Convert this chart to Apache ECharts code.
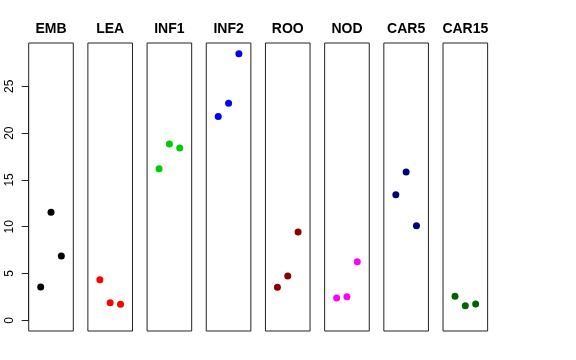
<!DOCTYPE html>
<html>
<head>
<meta charset="utf-8">
<script src="https://cdn.jsdelivr.net/npm/echarts@6/dist/echarts.min.js"></script>
<style>
html,body{margin:0;padding:0;background:#fff;}
#chart{width:576px;height:360px;}
</style>
</head>
<body>
<div id="chart"></div>
<script>
// ---- data ----
var panels = ['EMB', 'LEA', 'INF1', 'INF2', 'ROO', 'NOD', 'CAR5', 'CAR15'];
var replicate = [1, 2, 3];
var EMB   = [3.56, 11.54, 6.87];
var LEA   = [4.34, 1.88, 1.71];
var INF1  = [16.2, 18.84, 18.41];
var INF2  = [21.79, 23.18, 28.48];
var ROO   = [3.53, 4.73, 9.43];
var NOD   = [2.38, 2.52, 6.26];
var CAR5  = [13.42, 15.84, 10.11];
var CAR15 = [2.56, 1.56, 1.74];
var yTickMin = 0, yTickMax = 25, yTickStep = 5;

(function () {
  // ---- styles ----
  var values = [EMB, LEA, INF1, INF2, ROO, NOD, CAR5, CAR15];
  var colors = ['#000000', '#FF0000', '#00CD00', '#0000FF', '#8B0000', '#FF00FF', '#000080', '#006400'];

  var chart = echarts.init(document.getElementById('chart'), null, {renderer: 'canvas'});
  var grids = [], xAxes = [], yAxes = [], series = [], titles = [];
  var left0 = 28.7, pitch = 59.19, pw = 44.6, pTop = 43, ph = 288;
  var yMin = -1.14, yMax = 29.63;

  function yPix(v) { return pTop + ph * (yMax - v) / (yMax - yMin); }

  panels.forEach(function (name, i) {
    var L = left0 + i * pitch;
    grids.push({
      left: L, top: pTop, width: pw, height: ph,
      show: true, borderColor: '#222', borderWidth: 1, backgroundColor: 'transparent'
    });
    xAxes.push({type: 'value', gridIndex: i, min: -0.16, max: 4.16, show: false});
    yAxes.push({type: 'value', gridIndex: i, min: yMin, max: yMax, show: false});
    titles.push({
      text: name, left: L + pw / 2, top: 22, textAlign: 'center', padding: 0,
      textStyle: {fontFamily: 'Liberation Sans', fontWeight: 'bold', fontSize: 14, color: '#000'}
    });
    series.push({
      type: 'scatter', xAxisIndex: i, yAxisIndex: i,
      symbol: 'circle', symbolSize: 7,
      itemStyle: {color: colors[i], opacity: 1},
      data: replicate.map(function (r, k) { return [r, values[i][k]]; }),
      silent: true
    });
  });

  // separate axis-only grid so the y axis spans the tick range like R
  var axTop = yPix(yTickMax), axBottom = yPix(yTickMin);
  grids.push({left: left0, top: axTop, width: 10, height: axBottom - axTop, show: false});
  xAxes.push({type: 'value', gridIndex: 8, min: 0, max: 1, show: false});
  yAxes.push({
    type: 'value', gridIndex: 8, min: yTickMin, max: yTickMax, interval: yTickStep,
    position: 'left',
    splitLine: {show: false},
    axisLine: {show: true, lineStyle: {color: '#222', width: 1}},
    axisTick: {show: true, length: 7, lineStyle: {color: '#222', width: 1}},
    axisLabel: {show: true, rotate: 90, margin: 13, fontFamily: 'Liberation Sans', fontSize: 12, color: '#000'}
  });

  chart.setOption({
    animation: false,
    backgroundColor: '#fff',
    title: titles,
    grid: grids,
    xAxis: xAxes,
    yAxis: yAxes,
    series: series
  });
})();
</script>
</body>
</html>
